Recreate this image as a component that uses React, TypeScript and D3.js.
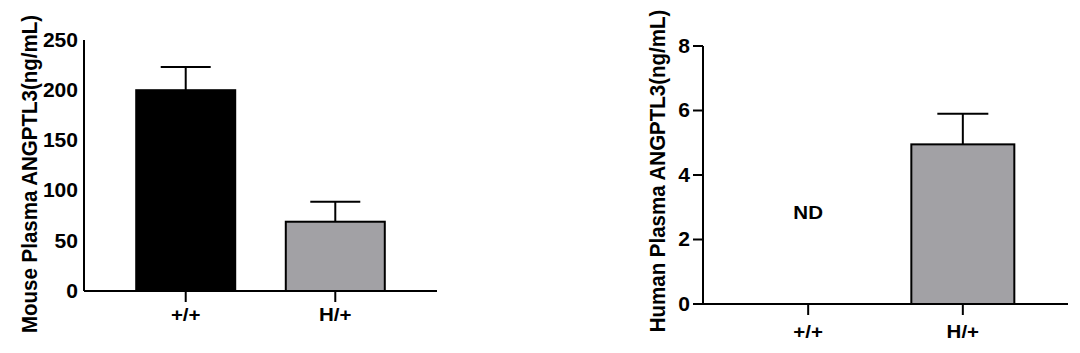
import React from "react";
import * as d3 from "d3";

const categories = ["+/+", "H/+"];
const mouseValues = [200, 69];
const mouseErrors = [223, 89];
const mouseTicks = [0, 50, 100, 150, 200, 250];
const humanValues = [null, 4.95];
const humanErrors = [null, 5.9];
const humanTicks = [0, 2, 4, 6, 8];
const humanNotes = ["ND", ""];
const fills = ["#000000", "#a2a1a5"];

const FONT = "'Liberation Sans', Arial, Helvetica, sans-serif";
const SX = 1.08;

type PanelProps = {
  x0: number; x1: number; yTop: number; yBase: number; max: number;
  ticks: number[]; values: (number | null)[]; errors: (number | null)[];
  barW: number; capW: number; tickMarks: boolean; label: string;
  labelX: number; labelY: number; tickLabelX: number; xLabelY: number;
  xAxisStart: number; notes?: string[]; pad: number; noteValue?: number;
};

function Panel(p: PanelProps) {
  const y = d3.scaleLinear().domain([0, p.max]).range([p.yBase, p.yTop]);
  const x = d3.scalePoint<string>().domain(categories).range([p.x0, p.x1]).padding(p.pad);
  return (
    <g fontFamily={FONT} fontWeight="bold" fill="#000">
      {categories.map((c, i) => {
        const v = p.values[i];
        const e = p.errors[i];
        const cx = x(c)!;
        return (
          <g key={c}>
            {v != null && e != null && (
              <>
                <line x1={cx} x2={cx} y1={y(v)} y2={y(e)} stroke="#000" strokeWidth={2} />
                <line x1={cx - p.capW / 2} x2={cx + p.capW / 2} y1={y(e)} y2={y(e)} stroke="#000" strokeWidth={2} />
                <rect x={cx - p.barW / 2} y={y(v)} width={p.barW} height={p.yBase - y(v)} fill={fills[i]} stroke="#000" strokeWidth={2} />
              </>
            )}
            {p.notes && p.notes[i] && (
              <text transform={`translate(${cx},${y(p.noteValue ?? 3)}) scale(${SX},1)`} textAnchor="middle" dominantBaseline="central" fontSize={19}>{p.notes[i]}</text>
            )}
            <line x1={cx} x2={cx} y1={p.yBase} y2={p.yBase + 11} stroke="#000" strokeWidth={2} />
            <text transform={`translate(${cx},${p.xLabelY}) scale(${SX},1)`} textAnchor="middle" dominantBaseline="central" fontSize={19}>{c}</text>
          </g>
        );
      })}
      <line x1={p.x0} x2={p.x0} y1={p.yTop} y2={p.yBase} stroke="#000" strokeWidth={2} />
      <line x1={p.xAxisStart} x2={p.x1} y1={p.yBase} y2={p.yBase} stroke="#000" strokeWidth={2} />
      {p.ticks.map((t) => (
        <g key={t}>
          {p.tickMarks && <line x1={p.x0 - 10} x2={p.x0} y1={y(t)} y2={y(t)} stroke="#000" strokeWidth={2} />}
          <text transform={`translate(${p.tickLabelX},${y(t)}) scale(${SX},1)`} textAnchor="end" dominantBaseline="central" fontSize={19.5}>{t}</text>
        </g>
      ))}
      <text transform={`translate(${p.labelX},${p.labelY}) rotate(-90) scale(1,${SX})`} textAnchor="middle" fontSize={20.5}>{p.label}</text>
    </g>
  );
}

export default function App() {
  return (
    <svg width={1080} height={353} style={{ position: "absolute", left: 0, top: 0, background: "#fff" }}>
      <rect width={1080} height={353} fill="#fff" />
      <Panel x0={84} x1={437} yTop={40} yBase={291} max={250} ticks={mouseTicks}
        values={mouseValues} errors={mouseErrors} barW={99} capW={50} tickMarks={false}
        label="Mouse Plasma ANGPTL3(ng/mL)" labelX={37} labelY={174} tickLabelX={78}
        xLabelY={314} xAxisStart={84} pad={0.68} />
      <Panel x0={703} x1={1068} yTop={46} yBase={304} max={8} ticks={humanTicks}
        values={humanValues} errors={humanErrors} barW={103} capW={51} tickMarks={true}
        label="Human Plasma ANGPTL3(ng/mL)" labelX={665} labelY={171} tickLabelX={690}
        xLabelY={331} xAxisStart={693} notes={humanNotes} pad={0.68} noteValue={2.85} />
    </svg>
  );
}
